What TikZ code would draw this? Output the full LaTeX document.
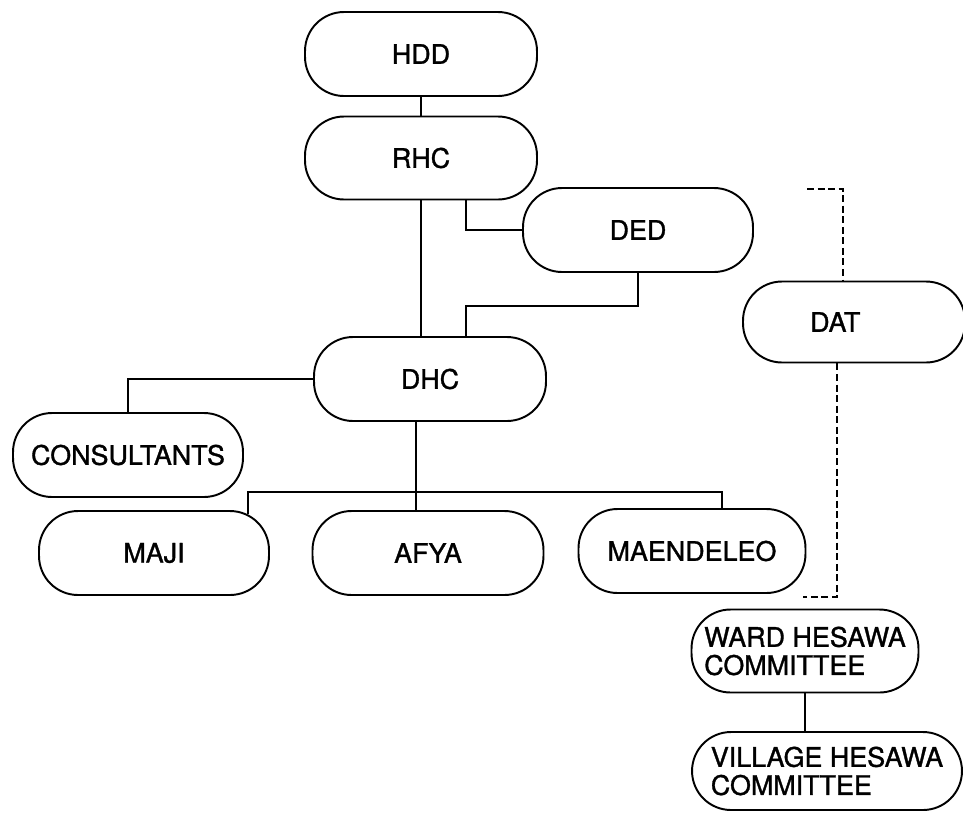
\documentclass[tikz,border=0pt]{standalone}
\usepackage{fontspec}
\newfontfamily\unitfont{TeX Gyre Heros}[BoldFont={TeX Gyre Heros},
    BoldFeatures={FakeBold=1.2}]

\begin{document}
\begin{tikzpicture}[x=0.02cm,y=-0.02cm,
    font=\unitfont\bfseries\fontsize{15.3}{16}\selectfont,
    unit/.style={draw,line width=1.1pt,rounded corners=0.78cm,
        minimum width=4.64cm,minimum height=1.68cm,inner sep=0pt},
    link/.style={line width=1.1pt},
    duty/.style={line width=1.1pt,dash pattern=on 4pt off 2pt}]
    \useasboundingbox (0,0) rectangle (963,812);

    % Regional and district levels.
    \node[unit] (hdd) at (421,54) {HDD};
    \node[unit,minimum height=1.66cm] (rhc) at (421,158) {RHC};
    \node[unit,minimum width=4.6cm] (ded) at (638,230) {DED};
    \node[unit] (dhc) at (430,379) {DHC};
    \node[unit,minimum width=4.44cm,minimum height=1.62cm] (dat) at (854,322)
        {\hspace*{-0.75cm}DAT};
    \node[unit,minimum width=4.6cm] (cons) at (128,455) {CONSULTANTS};

    % Sector departments.
    \node[unit,minimum width=4.6cm] (maji) at (154,553) {MAJI};
    \node[unit,minimum width=4.62cm] (afya) at (428,553) {AFYA};
    \node[unit,minimum width=4.54cm] (maen) at (692,551) {MAENDELEO};

    % Ward and village committees.
    \node[unit,minimum width=4.54cm,minimum height=1.66cm,align=left] (ward)
        at (805,651) {WARD HESAWA\\COMMITTEE};
    \node[unit,minimum width=5.4cm,minimum height=1.56cm,align=left] (village)
        at (827,771) {VILLAGE HESAWA\\COMMITTEE};

    % Solid lines of command.
    \draw[link] (hdd) -- (rhc);
    \draw[link] (rhc.south) -- (rhc.south |- dhc.north);
    \draw[link] ([xshift=0.9cm]rhc.south) |- (ded.west);
    \draw[link] (ded.south) -- ++(0,33) -| ([xshift=0.72cm]dhc.north);
    \draw[link] (dhc.west) -| (cons.north);
    \coordinate (split) at (416,492);
    \coordinate (majitop) at ([xshift=-0.44cm,yshift=-0.07cm]maji.north east);
    \coordinate (maentop) at ([xshift=0.6cm]maen.north);
    \draw[link] (dhc.south -| split) -- (afya.north -| split);
    \draw[link] (majitop) |- (split) -| (maentop);
    \draw[link] (ward.south) -- (ward.south |- village.north);

    % Dashed advisory line through DAT.
    \coordinate (datstub) at (807,189);
    \coordinate (wardstub) at (803,597);
    \draw[duty] (datstub) -| ([xshift=-0.22cm]dat.north);
    \draw[duty] ([xshift=-0.34cm]dat.south) |- (wardstub);
\end{tikzpicture}
\end{document}
